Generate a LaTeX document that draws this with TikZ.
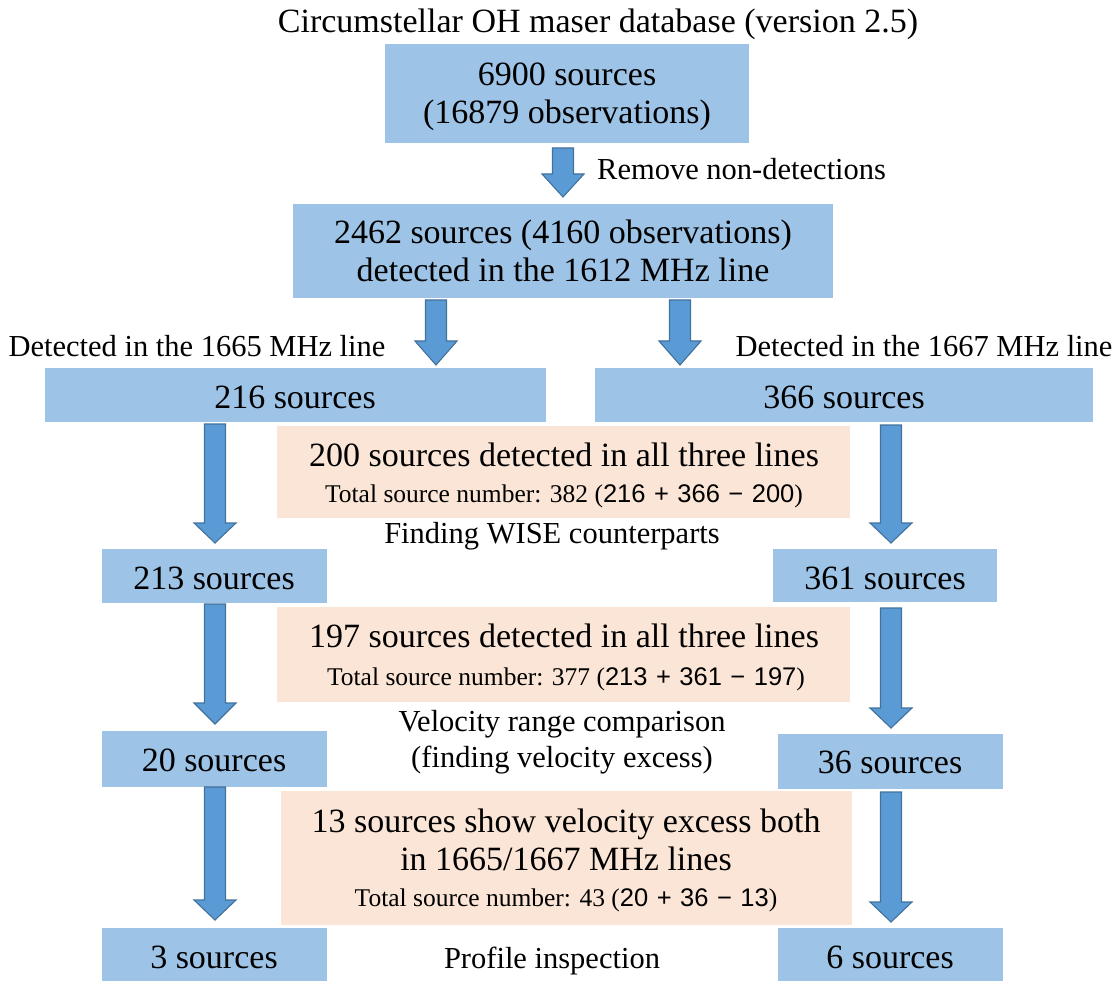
\documentclass[tikz,border=0pt]{standalone}
\usepackage{fontspec}
\setmainfont{Liberation Serif}
\newfontfamily\numfont{Liberation Sans}
\definecolor{boxblue}{HTML}{9DC3E6}
\definecolor{arrfill}{HTML}{5B9BD5}
\definecolor{arrline}{HTML}{41719C}
\definecolor{peach}{HTML}{FBE5D6}
\usetikzlibrary{calc}
\newcommand\blkarrow[5]{% name, cx, ytop, yheadstart, ytip
  \coordinate (#1-top) at (#2,#3);
  \coordinate (#1-tip) at (#2,#5);
  \draw[arrowsty] ($(#1-top)+(-10.5,0)$) -- ($(#1-top)+(10.5,0)$) -- (#2+10.5,#4) -- (#2+21,#4) -- (#1-tip) -- (#2-21,#4) -- (#2-10.5,#4) -- cycle;}
\newcommand\nsum[3]{{\numfont #1\,\,+\,\,#2\,\,−\,\,#3}}
\tikzset{
  arrowsty/.style={fill=arrfill,draw=arrline,line width=1.1pt,line join=miter},
  bluebox/.style={fill=boxblue,draw=none},
  peachbox/.style={fill=peach,draw=none},
  txt/.style={anchor=base,inner sep=0pt,font=\fontsize{34}{40}\selectfont},
  lbl/.style={anchor=base,inner sep=0pt,font=\fontsize{30.5}{36}\selectfont},
  sml/.style={anchor=base,inner sep=0pt,font=\fontsize{25.5}{30}\selectfont},
}
\begin{document}
\begin{tikzpicture}[x=1pt,y=-1pt]
\useasboundingbox (0,0) rectangle (1119,981);
% boxes
\path[bluebox] (385,44) rectangle (749,143) node[pos=.5] (b1) {};
\path[bluebox] (293,204) rectangle (833,298) node[pos=.5] (b2) {};
\path[bluebox] (45,368) rectangle (546,422) node[pos=.5] (b216) {};
\path[bluebox] (595,368) rectangle (1093,422) node[pos=.5] (b366) {};
\path[peachbox] (277,426) rectangle (850,518) node[pos=.5] (p1) {};
\path[bluebox] (102,549) rectangle (327,603) node[pos=.5] (b213) {};
\path[bluebox] (773,549) rectangle (997,602) node[pos=.5] (b361) {};
\path[peachbox] (277,607) rectangle (850,702) node[pos=.5] (p2) {};
\path[bluebox] (102,731) rectangle (327,787) node[pos=.5] (b20) {};
\path[bluebox] (778,734) rectangle (1003,789) node[pos=.5] (b36) {};
\path[peachbox] (281,791) rectangle (852,925) node[pos=.5] (p3) {};
\path[bluebox] (102,928) rectangle (327,981) node[pos=.5] (b3) {};
\path[bluebox] (778,928) rectangle (1003,981) node[pos=.5] (b6) {};
% arrows
\blkarrow{a1}{563}{148}{174}{197}
\blkarrow{a2l}{436}{300}{341}{365}
\blkarrow{a2r}{680}{300}{341}{365}
\blkarrow{a3l}{215}{424}{523}{543}
\blkarrow{a3r}{891}{425}{523}{543}
\blkarrow{a4l}{215}{604}{703}{724}
\blkarrow{a4r}{891}{608}{708}{728}
\blkarrow{a5l}{215}{787}{900}{920}
\blkarrow{a5r}{891}{792}{902}{922}
% texts
\node[txt] (title) at (598,33) {Circumstellar OH maser database (version 2.5)};
\node[txt] (t1a) at (567,86) {6900 sources};
\node[txt] (t1b) at (567,124) {(16879 observations)};
\node[lbl,anchor=base west] (rm) at (597,180) {Remove non-detections};
\node[txt] (t2a) at (563,244) {2462 sources (4160 observations)};
\node[txt] (t2b) at (563,282) {detected in the 1612 MHz line};
\node[lbl] (d1665) at (197,357) {Detected in the 1665 MHz line};
\node[lbl] (d1667) at (924,357) {Detected in the 1667 MHz line};
\node[txt] (t216) at (295,408) {216 sources};
\node[txt] (t366) at (844,408) {366 sources};
\node[txt] (p1a) at (564,466) {200 sources detected in all three lines};
\node[sml] (p1b) at (564,502) {Total source number: 382 (\nsum{216}{366}{200})};
\node[lbl] (wise) at (552,543) {Finding WISE counterparts};
\node[txt] (t213) at (214,589) {213 sources};
\node[txt] (t361) at (885,589) {361 sources};
\node[txt] (p2a) at (564,647) {197 sources detected in all three lines};
\node[sml] (p2b) at (566,685) {Total source number: 377 (\nsum{213}{361}{197})};
\node[lbl] (vel1) at (562,731) {Velocity range comparison};
\node[lbl] (vel2) at (562,767) {(finding velocity excess)};
\node[txt] (t20) at (214,771) {20 sources};
\node[txt] (t36) at (890,773) {36 sources};
\node[txt] (p3a) at (566,832) {13 sources show velocity excess both};
\node[txt] (p3b) at (566,870) {in 1665/1667 MHz lines};
\node[sml] (p3c) at (566,906) {Total source number: 43 (\nsum{20}{36}{13})};
\node[txt] (t3) at (214,968) {3 sources};
\node[lbl] (prof) at (552,968) {Profile inspection};
\node[txt] (t6) at (890,968) {6 sources};
\end{tikzpicture}
\end{document}
